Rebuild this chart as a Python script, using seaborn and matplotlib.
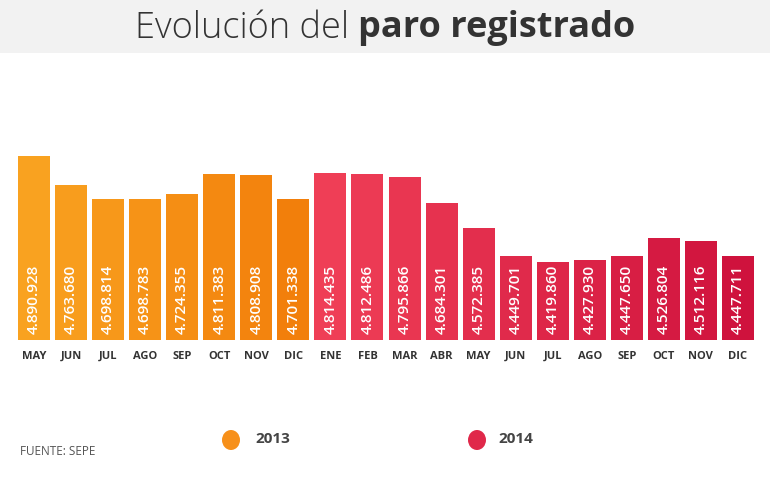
import matplotlib
matplotlib.use("Agg")
import matplotlib.pyplot as plt
import seaborn as sns
import pandas as pd
import numpy as np
from matplotlib.colors import LinearSegmentedColormap, to_hex
from matplotlib.patches import Rectangle, Ellipse

months = ["MAY", "JUN", "JUL", "AGO", "SEP", "OCT", "NOV", "DIC",
          "ENE", "FEB", "MAR", "ABR", "MAY", "JUN", "JUL", "AGO", "SEP", "OCT", "NOV", "DIC"]
years = ["2013"] * 8 + ["2014"] * 12
values = [4890928, 4763680, 4698814, 4698783, 4724355, 4811383, 4808908, 4701338,
          4814435, 4812486, 4795866, 4684301, 4572385, 4449701, 4419860, 4427930,
          4447650, 4526804, 4512116, 4447711]
labels = ["4.890.928", "4.763.680", "4.698.814", "4.698.783", "4.724.355", "4.811.383",
          "4.808.908", "4.701.338", "4.814.435", "4.812.486", "4.795.866", "4.684.301",
          "4.572.385", "4.449.701", "4.419.860", "4.427.930", "4.447.650", "4.526.804",
          "4.512.116", "4.447.711"]

sns.set_theme(style="white")
plt.rcParams['font.family'] = ['Open Sans', 'DejaVu Sans']

df = pd.DataFrame({"pos": [str(i) for i in range(len(values))], "value": values,
                   "month": months, "year": years})

cm13 = LinearSegmentedColormap.from_list("c13", ["#F9A220", "#F27F0B"])
cm14 = LinearSegmentedColormap.from_list("c14", ["#EF3E56", "#CF123D"])
colors = [to_hex(cm13(i / 7)) for i in range(8)] + [to_hex(cm14(i / 11)) for i in range(12)]

fig = plt.figure(figsize=(7.7, 4.94), dpi=100)
ax = fig.add_axes([15.5 / 770, (494 - 340) / 494, 741 / 770, 200 / 494])

sns.barplot(data=df, x="pos", y="value", hue="pos", palette=colors, legend=False,
            width=32 / 37, ax=ax, saturation=1)
base = 4075600
ax.set_ylim(base, base + 200 * 4431)
ax.set_xlim(-0.5, len(values) - 0.5)
for p in ax.patches:
    p.set_linewidth(0)

for i, (v, lab) in enumerate(zip(values, labels)):
    ax.text(i, base + 6 * 4431, lab, rotation=90, ha="center", va="bottom",
            color="white", fontsize=11, fontweight="semibold")

ax.set_xticks(range(len(values)))
ax.set_xticklabels(months, fontsize=8, fontweight="bold", color="#333333")
ax.tick_params(axis="x", length=0, pad=8)
ax.set_yticks([])
ax.set_xlabel("")
ax.set_ylabel("")
sns.despine(ax=ax, left=True, bottom=True)

# Title band
fig.patches.append(Rectangle((0, 1 - 53 / 494), 1, 53 / 494, transform=fig.transFigure,
                             facecolor="#F2F2F2", edgecolor="none", zorder=0))
t1 = fig.text(0.5, 1 - 28 / 494, "Evolución del ", fontsize=26, fontweight="light",
              color="#333333", ha="right", va="center")
fig.canvas.draw()
w1 = t1.get_window_extent().width
t2 = fig.text(0.5, 1 - 28 / 494, "paro registrado", fontsize=26, fontweight="bold",
              color="#333333", ha="left", va="center")
fig.canvas.draw()
w2 = t2.get_window_extent().width
total = w1 + w2
left = 385 - total / 2
t1.set_x((left + w1) / 770)
t2.set_x((left + w1) / 770)

# Legend and source
fig.text(20 / 770, 1 - 451 / 494, "FUENTE: SEPE", fontsize=8.5, color="#555555",
         ha="left", va="center")
fig.patches.append(Ellipse((231 / 770, 1 - 440 / 494), 18 / 770, 20 / 494,
                           transform=fig.transFigure, facecolor="#F7901A", edgecolor="none"))
fig.text(255 / 770, 1 - 439 / 494, "2013", fontsize=11, fontweight="bold", color="#444444",
         ha="left", va="center")
fig.patches.append(Ellipse((477 / 770, 1 - 440 / 494), 18 / 770, 20 / 494,
                           transform=fig.transFigure, facecolor="#E0284A", edgecolor="none"))
fig.text(498 / 770, 1 - 439 / 494, "2014", fontsize=11, fontweight="bold", color="#444444",
         ha="left", va="center")

fig.savefig("out.png", dpi=100)
